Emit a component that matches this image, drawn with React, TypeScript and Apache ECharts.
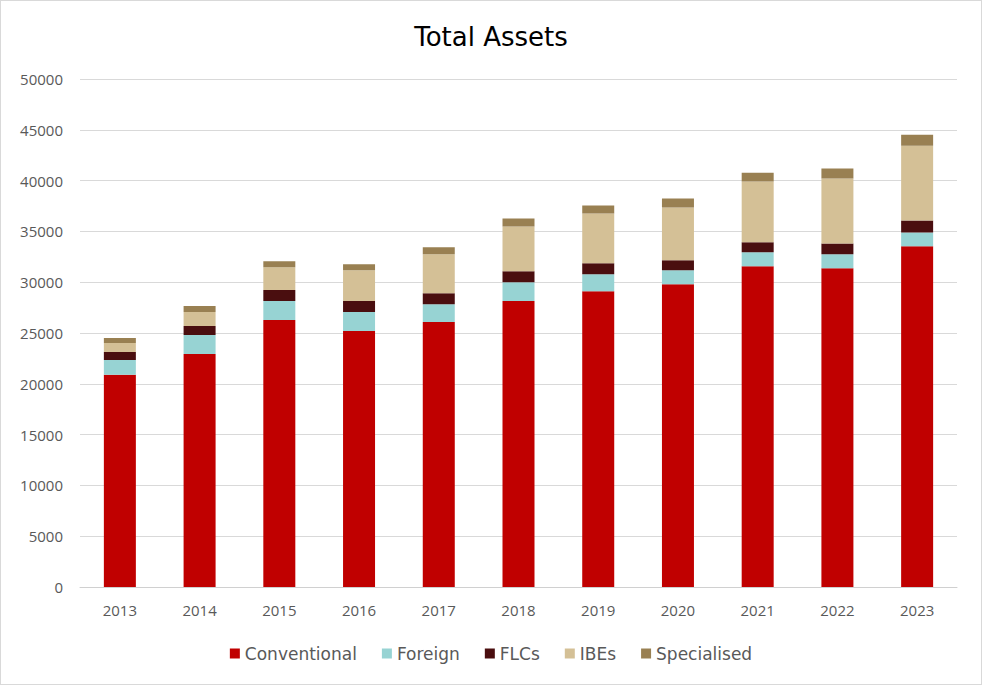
import * as echarts from 'echarts';
import { useEffect, useRef } from 'react';

const years = ['2013', '2014', '2015', '2016', '2017', '2018', '2019', '2020', '2021', '2022', '2023'];
const conventional = [20880, 22940, 26270, 25200, 26080, 28140, 29120, 29800, 31570, 31370, 33530];
const foreign = [1470, 1860, 1870, 1860, 1760, 1860, 1660, 1380, 1370, 1380, 1370];
const flcs = [790, 890, 1080, 1080, 1080, 1080, 1080, 980, 980, 1070, 1180];
const ibes = [880, 1370, 2250, 3040, 3830, 4410, 4900, 5190, 5980, 6380, 7350];
const specialised = [490, 590, 590, 580, 680, 780, 790, 890, 880, 980, 1080];

const seriesDefs = [
  { name: 'Conventional', data: conventional, color: '#C00000' },
  { name: 'Foreign', data: foreign, color: '#97D3D3' },
  { name: 'FLCs', data: flcs, color: '#4A0E0F' },
  { name: 'IBEs', data: ibes, color: '#D4C096' },
  { name: 'Specialised', data: specialised, color: '#998052' },
];

const gothic = "'DejaVu Sans', sans-serif";
const labelFont = "'Open Sans', 'Liberation Sans', sans-serif";

export default function App() {
  const chartRef = useRef<HTMLDivElement>(null);

  useEffect(() => {
    document.body.style.margin = '0';
    if (!chartRef.current) return;
    const chart = echarts.init(chartRef.current, null, { renderer: 'svg' });
    chart.setOption({
      animation: false,
      backgroundColor: '#fff',
      title: {
        text: 'Total Assets',
        left: 'center',
        top: 18,
        textStyle: {
          color: '#000',
          fontSize: 26,
          fontWeight: 'normal',
          fontFamily: gothic,
        },
      },
      legend: {
        bottom: 17,
        left: 'center',
        itemWidth: 10,
        itemHeight: 10,
        itemGap: 25,
        icon: 'rect',
        selectedMode: false,
        textStyle: {
          color: '#595959',
          fontSize: 17,
          fontFamily: gothic,
        },
        data: seriesDefs.map((s) => s.name),
      },
      grid: {
        left: 79,
        right: 24,
        top: 78,
        bottom: 97,
        containLabel: false,
      },
      xAxis: {
        type: 'category',
        data: years,
        axisTick: { show: false },
        axisLine: { lineStyle: { color: '#d0d0d0', width: 1 } },
        axisLabel: {
          color: '#595959',
          fontSize: 15,
          fontFamily: labelFont,
          margin: 15,
        },
      },
      yAxis: {
        type: 'value',
        min: 0,
        max: 50000,
        interval: 5000,
        axisLine: { show: false },
        axisTick: { show: false },
        axisLabel: {
          color: '#595959',
          fontSize: 15,
          fontFamily: labelFont,
          margin: 17,
          formatter: (v: number) => String(v),
        },
        splitLine: { lineStyle: { color: '#d9d9d9', width: 1 } },
      },
      series: seriesDefs.map((s) => ({
        name: s.name,
        type: 'bar',
        stack: 'total',
        barWidth: 32,
        itemStyle: { color: s.color },
        data: s.data,
      })),
    });
    return () => {
      chart.dispose();
    };
  }, []);

  return (
    <div
      style={{
        width: 982,
        height: 685,
        border: '1px solid #d9d9d9',
        boxSizing: 'border-box',
        position: 'relative',
      }}
    >
      <div ref={chartRef} style={{ width: 980, height: 683 }}></div>
    </div>
  );
}
